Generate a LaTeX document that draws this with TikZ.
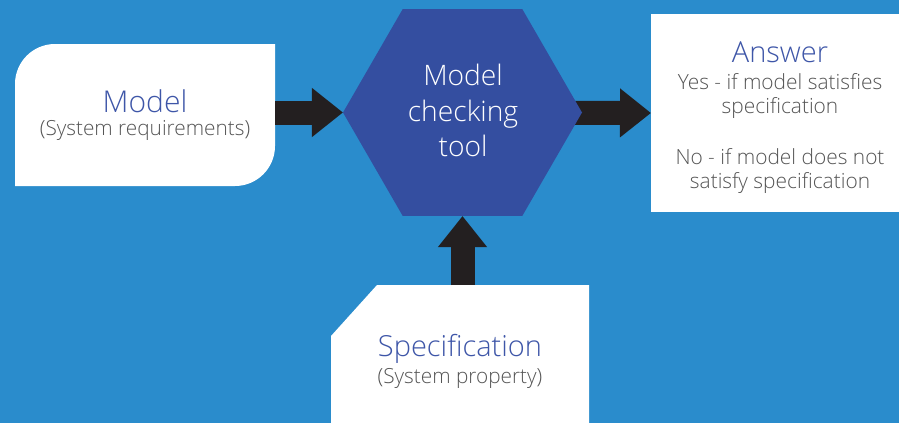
\documentclass[tikz,border=0pt]{standalone}
\usepackage{fontspec}
\setmainfont{Open Sans}[UprightFont=* Light]
\usetikzlibrary{shapes.geometric,arrows.meta,calc}

\definecolor{bgblue}{RGB}{42,140,204}
\definecolor{hexblue}{RGB}{52,78,160}
\definecolor{titleblue}{RGB}{62,86,168}
\definecolor{subgrey}{RGB}{85,85,85}
\definecolor{arrowdark}{RGB}{35,31,32}

\pgfdeclarelayer{canvas}
\pgfdeclarelayer{back}
\pgfsetlayers{canvas,back,main}

\begin{document}
\begin{tikzpicture}[x=1pt,y=-1pt,
  panel/.style={inner sep=0, outer sep=0, draw=none},
  title/.style={anchor=base, text=titleblue, font=\fontsize{30}{36}\selectfont},
  sub/.style={anchor=base, text=subgrey, font=\fontsize{20.8}{25}\selectfont},
  ans/.style={anchor=base, text=subgrey, font=\fontsize{20.9}{25}\selectfont},
  hextext/.style={anchor=base, text=white, font=\fontsize{28.2}{34}\selectfont},
  blockarrow/.style={line width=24, draw=arrowdark, -{Triangle[length=31,width=47]}}]

\useasboundingbox (0,0) rectangle (899,423);
\begin{pgfonlayer}{canvas}
  \fill[bgblue] (0,0) rectangle (899,423);
\end{pgfonlayer}

% frames of the four blocks
\node[panel, minimum width=260, minimum height=142] (model) at (145,115) {};
\node[regular polygon, regular polygon sides=6, minimum size=239,
      inner sep=0, outer sep=0, fill=hexblue] (hex) at (462.5,112.5) {};
\node[panel, minimum width=260, minimum height=198] (answer) at (781,113) {};
\node[panel, minimum width=258, minimum height=150] (spec) at (460,360) {};

\begin{pgfonlayer}{back}
  % model card: rounded top-left and bottom-right corners
  \fill[white] (model.south west)
    -- ($(model.north west)+(0,40)$)
    .. controls +(0,-22.1) and +(-22.1,0) .. ($(model.north west)+(40,0)$)
    -- (model.north east)
    -- ($(model.south east)+(0,-40)$)
    .. controls +(0,22.1) and +(22.1,0) .. ($(model.south east)+(-40,0)$)
    -- cycle;
  % answer card
  \fill[white] (answer.north west) rectangle (answer.south east);
  % specification card with a clipped corner
  \fill[white] ($(spec.north west)+(0,51)$) -- ($(spec.north west)+(46,0)$)
    -- (spec.north east) -- (spec.south east) -- (spec.south west) -- cycle;
  % block arrows
  \draw[blockarrow] (model.east |- hex.west) -- (hex.west);
  \draw[blockarrow] (hex.center) -- (answer.west);
  \draw[blockarrow] (hex.south |- spec.north) -- (hex.south);
\end{pgfonlayer}

% texts
\node[title] (modeltitle) at (145,112) {Model};
\node[sub] (modelsub) at (145,135) {(System requirements)};

\node[hextext] (hex1) at (463,85) {Model};
\node[hextext] (hex2) at (463,121) {checking};
\node[hextext] (hex3) at (463,156) {tool};

\node[title, font=\fontsize{29}{34}\selectfont] (anstitle) at (780,62) {Answer};
\node[ans] (ans1) at (780,89) {Yes - if model satisfies};
\node[ans] (ans2) at (780,113) {specification};
\node[ans] (ans3) at (780,164) {No - if model does not};
\node[ans] (ans4) at (780,188) {satisfy specification};

\node[title, font=\fontsize{29}{34}\selectfont] (spectitle) at (460,356) {Specification};
\node[sub] (specsub) at (460,383) {(System property)};
\end{tikzpicture}
\end{document}
